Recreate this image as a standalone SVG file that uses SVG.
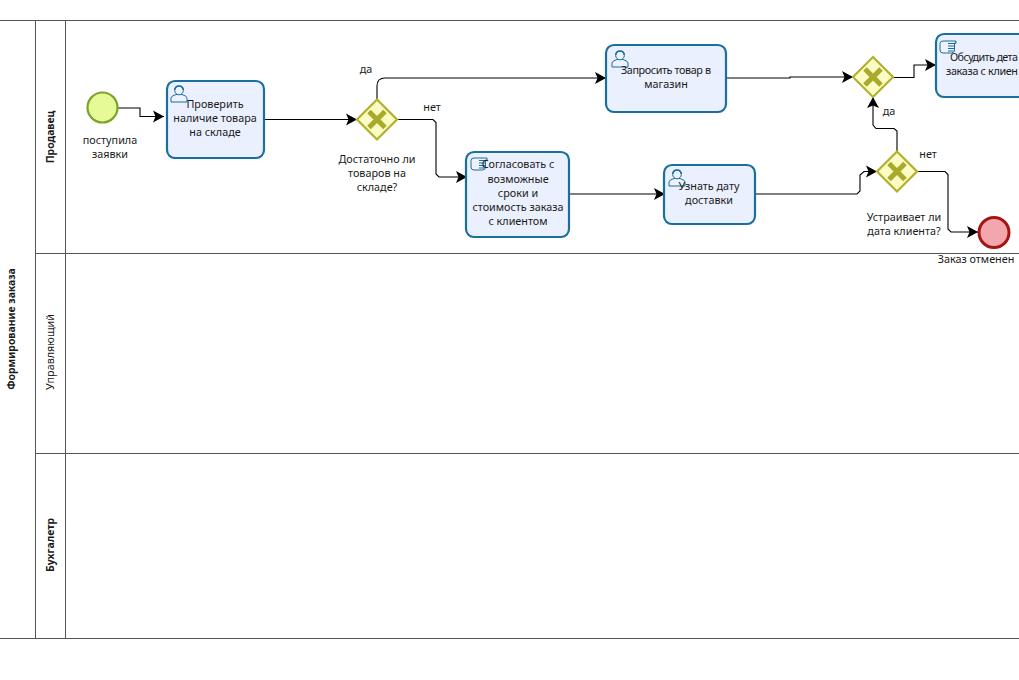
<svg xmlns="http://www.w3.org/2000/svg" width="1019" height="680" viewBox="0 0 1019 680">
<defs>
<marker id="arr" markerUnits="userSpaceOnUse" markerWidth="13" markerHeight="13" refX="11" refY="6.500" orient="auto"><path d="M0 0.500L11 6.500L0 12.500L2.500 6.500Z" fill="#000"/></marker>
<g id="user" fill="#eef2fd" stroke="#1a6f9c" stroke-width="1"><path d="M-8 13V9Q-8 7 -3 5.500H3Q8 7 8 9V13Z"/><circle cx="0" cy="1.500" r="4.300"/><path d="M-4.300 1Q-4 -3 0 -3Q4 -3 4.300 1" fill="none" stroke-width="1.600"/></g>
<g id="manual" fill="#eef2fd" stroke="#1a6f9c" stroke-width="1"><path d="M-8 2.500Q-8 0 -5 0H8V2H6.500V9Q6.500 12 3.500 12H-5Q-8 12 -8 9Z"/><path d="M0 2.500H8M0 5H7M0 7.500H6.500M0 10H5.500" fill="none"/></g>
</defs>
<style>
text{font-family:"Noto Sans","DejaVu Sans",sans-serif;font-size:10.800px;fill:#1a1a1a;text-anchor:middle}
.b{font-weight:700;font-size:10.400px}
.lane{fill:none;stroke:#555;stroke-width:1}
.task{fill:#eaf0fd;stroke:#1a6f9c;stroke-width:2.200}
.gw{fill:#fbfbc4;stroke:#b1b12f;stroke-width:2.200}
.x{fill:none;stroke:#a9a92b;stroke-width:5}
.c{fill:none;stroke:#000;stroke-width:1.100;marker-end:url(#arr)}
</style>
<g id="pool">
<path class="lane" d="M0 20.500H1019M0 638.500H1019M35 253.500H1019M35 453.500H1019M35.500 20V638M65.500 20V638"/>
<text class="b" transform="translate(14.500 329) rotate(-90)">Формирование заказа</text>
<text class="b" transform="translate(54 137) rotate(-90)">Продавец</text>
<text transform="translate(54 352) rotate(-90)">Управляющий</text>
<text class="b" transform="translate(54 545) rotate(-90)">Бухгалетр</text>
</g>
<g id="connectors">
<path class="c" d="M118 108H140V116.500H164"/>
<path class="c" d="M265 119.500H357"/>
<path class="c" d="M377 100V86Q377 78 385 78H606"/>
<path class="c" d="M397 119.500H433L436 122.500V174L439 177H467"/>
<path class="c" d="M727 78H790V77H853"/>
<path class="c" d="M570 194H665"/>
<path class="c" d="M755 194H857L860 191V175L864 171.500H877"/>
<path class="c" d="M893 77.500H914V65H936"/>
<path class="c" d="M897 151.500V131L894 128.500H876L873 125V97"/>
<path class="c" d="M917 171.500H945L948 174.500V229L951 232H978"/>
</g>
<g id="start"><circle cx="102.500" cy="107.500" r="15" fill="#e6fb98" stroke="#7da32c" stroke-width="2.200"/><text x="110" y="144">поступила</text><text x="110" y="158">заявки</text></g>
<g id="t1"><rect class="task" x="167" y="81" width="97" height="77" rx="8"/><use href="#user" x="179" y="89"/><text x="215" y="108">Проверить</text><text x="215" y="122">наличие товара</text><text x="215" y="136">на складе</text></g>
<g id="g1"><path class="gw" d="M377 99.500L397 119.500L377 139.500L357 119.500Z"/><path class="x" d="M369 111.500L385 127.500M385 111.500L369 127.500"/><text x="377" y="163">Достаточно ли</text><text x="377" y="177">товаров на</text><text x="377" y="191">складе?</text><text x="366" y="73">да</text><text x="432" y="111">нет</text></g>
<g id="t2"><rect class="task" x="606" y="45" width="120" height="67" rx="8"/><use href="#user" x="620" y="54"/><text x="666" y="74" textLength="90">Запросить товар в</text><text x="666" y="88">магазин</text></g>
<g id="t3"><rect class="task" x="466" y="152" width="103" height="85" rx="8"/><use href="#manual" x="479" y="158"/><text x="518" y="168">Согласовать с</text><text x="518" y="183">возможные</text><text x="518" y="197">сроки и</text><text x="518" y="211">стоимость заказа</text><text x="518" y="225">с клиентом</text></g>
<g id="t4"><rect class="task" x="664" y="165" width="91" height="59" rx="8"/><use href="#user" x="677" y="173"/><text x="709" y="190">Узнать дату</text><text x="709" y="204">доставки</text></g>
<g id="g2"><path class="gw" d="M873 57L893 77L873 97L853 77Z"/><path class="x" d="M865 69L881 85M881 69L865 85"/><text x="889" y="115">да</text></g>
<g id="g3"><path class="gw" d="M897 151.500L917 171.500L897 191.500L877 171.500Z"/><path class="x" d="M889 163.500L905 179.500M905 163.500L889 179.500"/><text x="904" y="221">Устраивает ли</text><text x="904" y="235">дата клиента?</text><text x="928" y="158">нет</text></g>
<g id="t5"><rect class="task" x="936" y="34" width="100" height="63" rx="8"/><use href="#manual" x="948" y="41"/><text x="950" y="61" style="text-anchor:start" textLength="68">Обсудить дета</text><text x="946" y="75" style="text-anchor:start" textLength="72">заказа с клиен</text></g>
<g id="end"><circle cx="994" cy="232.500" r="15" fill="#f3a6ab" stroke="#a51515" stroke-width="3"/><text x="976" y="263">Заказ отменен</text></g>
</svg>
